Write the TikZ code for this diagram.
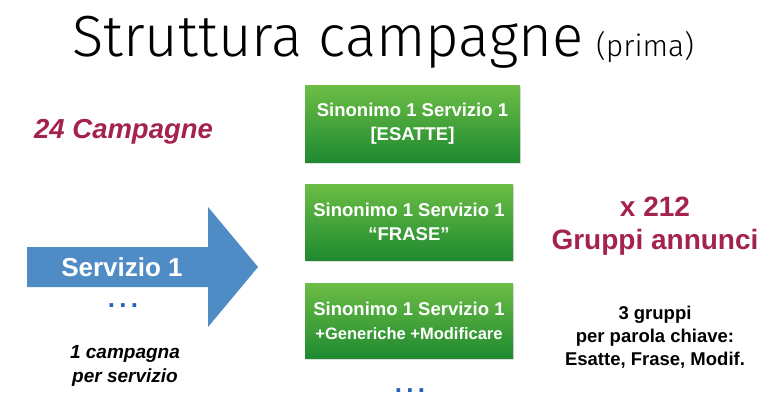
\documentclass[tikz,border=0pt]{standalone}
\usepackage{fontspec}
\setmainfont{Liberation Sans}
\newfontfamily\lightfont{Fira Sans Light}
\usetikzlibrary{shadows}
\definecolor{crimson}{HTML}{A3224F}
\definecolor{arrowblue}{HTML}{4F8CC6}
\definecolor{dotblue}{HTML}{2A62B8}
\definecolor{gtop}{HTML}{6CBD45}
\definecolor{gbot}{HTML}{1F8A30}
\tikzset{
  gbox/.style={top color=gtop, bottom color=gbot, draw=none,
    drop shadow={opacity=0.25, shadow xshift=0.8pt, shadow yshift=-1.5pt}},
  boxtext/.style={text=white, font=\bfseries\fontsize{18.5}{24}\selectfont, align=center},
  dots/.style={text=dotblue, font=\bfseries\fontsize{26}{26}\selectfont}
}
\begin{document}
\begin{tikzpicture}[x=1pt,y=-1pt]
\useasboundingbox (0,0) rectangle (784,409);
% title
\node[anchor=base west, inner sep=0, font=\lightfont\fontsize{58}{60}\selectfont] (title) at (72,57) {Struttura campagne};
\node[anchor=base west, inner sep=0, font=\lightfont\fontsize{30}{32}\selectfont] (prima) at (596,57) {(prima)};
% left texts
\node[text=crimson, font=\bfseries\itshape\fontsize{27.5}{28}\selectfont, anchor=base west, inner sep=0] (camp) at (34,139) {24 Campagne};
% arrow
\fill[arrowblue] (27,247) -- (208,247) -- (208,207) -- (258,267) -- (208,327) -- (208,287) -- (27,287) -- cycle;
\node[text=white, font=\bfseries\fontsize{26}{27}\selectfont] (serv) at (122,267) {Servizio 1};
\node[dots] (dots1) at (123,306) {.\,.\,.};
\node[font=\bfseries\itshape\fontsize{19}{24}\selectfont, align=center] (percamp) at (125,366) {1 campagna\\per servizio};
% boxes
\node[gbox, minimum width=215pt, minimum height=76pt, inner sep=0] (b1) at (412.5,124) {};
\node[boxtext] (t1) at (b1.center) {Sinonimo 1 Servizio 1\\{[}ESATTE{]}};
\node[gbox, minimum width=208pt, minimum height=76pt, inner sep=0] (b2) at (409,222) {};
\node[boxtext] (t2) at (b2.center) {Sinonimo 1 Servizio 1\\“FRASE”};
\node[gbox, minimum width=208pt, minimum height=75pt, inner sep=0] (b3) at (409,320.5) {};
\node[boxtext] (t3) at (b3.center) {Sinonimo 1 Servizio 1\\{\fontsize{16.5}{21}\selectfont +Generiche +Modificare}};
\node[dots] (dots2) at (410,391) {.\,.\,.};
% right texts
\node[text=crimson, font=\bfseries\fontsize{28}{33}\selectfont, align=center] (grp) at (655,226) {x 212\\Gruppi annunci};
\node[font=\bfseries\fontsize{18.5}{23}\selectfont, align=center] (expl) at (655,337) {3 gruppi\\per parola chiave:\\Esatte, Frase, Modif.};
\end{tikzpicture}
\end{document}
